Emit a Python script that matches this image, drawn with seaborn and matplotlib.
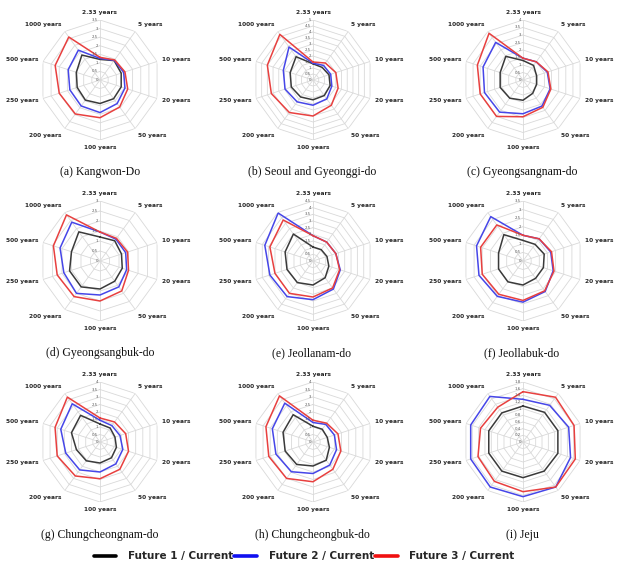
import numpy as np
import pandas as pd
import matplotlib
matplotlib.use('Agg')
import matplotlib.pyplot as plt
from matplotlib.lines import Line2D
import seaborn as sns

# return periods (radar axes, clockwise from the top)
periods = ['2.33 years', '5 years', '10 years', '20 years', '50 years',
           '100 years', '200 years', '250 years', '500 years', '1000 years']

regions = ['(a) Kangwon-Do', '(b) Seoul and Gyeonggi-do', '(c) Gyeongsangnam-do',
           '(d) Gyeongsangbuk-do', '(e) Jeollanam-do', '(f) Jeollabuk-do',
           '(g) Chungcheongnam-do', '(h) Chungcheongbuk-do', '(i) Jeju']

r_max = [3.5, 5, 4, 3, 4.5, 3.5, 4, 4, 1.8]
r_step = [0.5, 0.5, 0.5, 0.5, 0.5, 0.5, 0.5, 0.5, 0.2]

# ratio to current, one row per region
future1 = [
    [1.2, 1.4, 1.3, 1.3, 1.35, 1.37, 1.45, 1.4, 1.45, 1.8],
    [1.35, 1.3, 1.4, 1.5, 1.6, 1.65, 1.75, 1.9, 2.0, 2.4],
    [1.3, 1.2, 0.95, 0.95, 1.1, 1.35, 1.5, 1.6, 1.6, 1.95],
    [1.2, 1.25, 1.13, 1.17, 1.25, 1.4, 1.6, 1.6, 1.5, 1.8],
    [1.05, 1.05, 1.1, 1.25, 1.55, 1.8, 2.0, 2.05, 2.2, 2.5],
    [1.2, 1.2, 1.3, 1.25, 1.25, 1.4, 1.5, 1.5, 1.5, 1.9],
    [1.2, 1.15, 1.05, 1.15, 1.3, 1.4, 1.55, 1.65, 2.0, 2.2],
    [1.05, 1.05, 1.0, 1.15, 1.5, 1.6, 1.85, 1.95, 2.1, 2.25],
    [1.08, 1.1, 1.1, 1.1, 1.08, 1.07, 1.08, 1.08, 1.08, 1.08],
]
future2 = [
    [1.26, 1.42, 1.45, 1.53, 1.7, 1.9, 1.87, 1.85, 1.95, 2.15],
    [1.4, 1.5, 1.55, 1.65, 1.95, 2.1, 2.25, 2.45, 2.6, 3.4],
    [1.45, 1.5, 1.7, 1.9, 2.15, 2.25, 2.65, 2.7, 2.8, 3.1],
    [1.45, 1.35, 1.35, 1.4, 1.6, 1.7, 2.0, 1.9, 2.1, 2.4],
    [1.9, 1.75, 1.8, 2.15, 2.6, 2.9, 3.3, 3.4, 3.8, 4.45],
    [1.5, 1.6, 1.7, 1.85, 2.2, 2.4, 2.55, 2.7, 2.85, 3.2],
    [1.45, 1.35, 1.4, 1.6, 1.8, 2.0, 2.3, 2.4, 2.75, 3.15],
    [1.3, 1.45, 1.5, 1.65, 1.9, 2.1, 2.45, 2.6, 2.85, 3.2],
    [1.28, 1.36, 1.44, 1.5, 1.67, 1.64, 1.67, 1.65, 1.65, 1.69],
]
future3 = [
    [1.32, 1.45, 1.53, 1.7, 1.95, 2.2, 2.45, 2.5, 2.75, 3.1],
    [1.5, 1.75, 2.0, 2.2, 2.6, 3.0, 3.35, 3.65, 4.0, 4.7],
    [1.45, 1.5, 1.75, 1.95, 2.25, 2.45, 3.0, 3.0, 3.2, 3.85],
    [1.45, 1.4, 1.45, 1.5, 1.85, 2.0, 2.2, 2.25, 2.45, 2.85],
    [1.9, 1.75, 1.8, 2.1, 2.5, 2.7, 3.0, 3.0, 3.4, 3.8],
    [1.5, 1.6, 1.75, 1.9, 2.15, 2.3, 2.4, 2.5, 2.6, 2.6],
    [1.6, 1.65, 1.8, 2.0, 2.25, 2.45, 2.8, 3.0, 3.15, 3.7],
    [1.45, 1.55, 1.75, 1.95, 2.25, 2.65, 3.0, 3.1, 3.3, 3.8],
    [1.51, 1.66, 1.61, 1.65, 1.67, 1.49, 1.46, 1.42, 1.34, 1.29],
]

series_names = ['Future 1 / Current', 'Future 2 / Current', 'Future 3 / Current']
line_colors = ['#3a3a3a', '#4646e8', '#e8403f']
legend_colors = ['#000000', '#1010f0', '#f01010']

sns.set_theme(style='white')
plt.rcParams['font.family'] = ['DejaVu Sans']

W, H = 620, 564
fig = plt.figure(figsize=(W / 100, H / 100), dpi=100)

centers_x = [100, 313, 523]
centers_y = [80, 261, 442]
caption_x = [100, 312, 522]
caption_y = [172, 353, 535]
R = 60
grid_color = '#d9d9d9'

theta = np.linspace(0, 2 * np.pi, len(periods), endpoint=False)
theta_closed = np.append(theta, 2 * np.pi)

for i, region in enumerate(regions):
    cx = centers_x[i % 3]
    cy = centers_y[i // 3]
    ax = fig.add_axes([(cx - R) / W, 1 - (cy + R) / H, 2 * R / W, 2 * R / H],
                      projection='polar')
    ax.set_theta_offset(np.pi / 2)
    ax.set_theta_direction(-1)

    # long-form table for this region, each loop closed back on 2.33 years
    rows = []
    for name, vals in zip(series_names, [future1[i], future2[i], future3[i]]):
        closed = list(vals) + [vals[0]]
        for t, v in zip(theta_closed, closed):
            rows.append({'theta': t, 'ratio': v, 'series': name})
    df = pd.DataFrame(rows)

    # polygon rings
    levels = [round(v, 2) for v in np.arange(0, r_max[i] + r_step[i] / 2, r_step[i])]
    for lv in levels[1:]:
        ax.plot(theta_closed, [lv] * len(theta_closed), color=grid_color, lw=0.6, zorder=1)

    sns.lineplot(data=df, x='theta', y='ratio', hue='series', palette=line_colors,
                 sort=False, estimator=None, legend=False, lw=1.1, ax=ax, zorder=3)

    ax.set_ylim(0, r_max[i])
    ax.set_xticks(theta)
    ax.set_xticklabels([])
    ax.set_yticks([])
    ax.xaxis.grid(True, color=grid_color, lw=0.6)
    ax.spines['polar'].set_visible(False)
    ax.set_xlabel('')
    ax.set_ylabel('')

    # period labels around the outside
    for t, lab in zip(theta, periods):
        a = np.pi / 2 - t
        dx, dy = np.cos(a), np.sin(a)
        ha = 'left' if dx > 0.35 else ('right' if dx < -0.35 else 'center')
        va = 'bottom' if dy > 0.35 else ('top' if dy < -0.35 else 'center')
        ax.annotate(lab, xy=(t, r_max[i]), xytext=(dx * 3.6, dy * 3.6),
                    textcoords='offset points', ha=ha, va=va, fontsize=4.2,
                    fontweight='bold', color='#262626', annotation_clip=False)

    # value labels along the top spoke
    for lv in levels:
        ax.annotate(f'{lv:g}', xy=(0, lv), xytext=(-1.5, 0), textcoords='offset points',
                    ha='right', va='center', fontsize=2.8, color='#595959',
                    annotation_clip=False, zorder=4)

    fig.text(caption_x[i % 3] / W, 1 - caption_y[i // 3] / H, region, ha='center',
             va='center', fontsize=8.5, family='Liberation Serif', color='#111111')

handles = [Line2D([], [], color=c, lw=2.6) for c in legend_colors]
fig.legend(handles, series_names, loc='center', bbox_to_anchor=(304 / W, 1 - 556.5 / H),
           ncol=3, frameon=False, prop={'weight': 'bold', 'size': 7.5},
           handlelength=2.2, handletextpad=1.1, columnspacing=0.1)

fig.savefig('out.png', dpi=100)
